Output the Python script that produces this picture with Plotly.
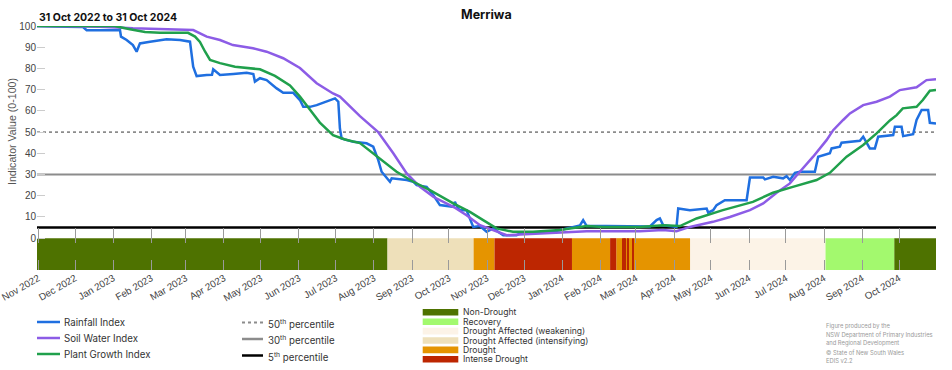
import pandas as pd
import plotly.graph_objects as go

START = "2022-10-31"
END = "2024-10-31"
TITLE = "Merriwa"
PERIOD_TEXT = "31 Oct 2022 to 31 Oct 2024"

# ---- index series (day offset from START, value 0-100) ----
rain_days = [0, 18.7, 24.1, 37.4, 40.4, 67.5, 68.3, 72.9, 78, 81, 83.7, 91.9, 100, 105.4, 116.3, 124.4,
             127, 129.8, 138, 142.3, 143.3, 148.8, 159.6, 170.5, 175.9, 177.2, 181.3, 186.7, 194.9, 200.2,
             208.4, 213.8, 216.5, 222, 227.4, 235.5, 240.9, 242.3, 245, 246.3, 247.7, 257.2, 268, 273.4,
             277.5, 280.2, 287, 288.4, 300.6, 306, 308.7, 316.8, 322.2, 327.6, 338.5, 339.8, 342.3, 343.9,
             349.3, 354.7, 360.2, 365.6, 371, 379.1, 390, 392.7, 419.8, 436, 441.5, 444.1, 447, 463.2,
             490.2, 498.4, 503.8, 506.5, 509.2, 520, 521.4, 530.9, 544.5, 545.8, 549.8, 552.6, 559.3,
             577, 579.7, 590.5, 591.9, 598.6, 606.7, 609.5, 612.2, 616.3, 620.3, 632.5, 635.2, 644.7,
             646.1, 652.8, 654.2, 669.1, 671.8, 677.2, 681.3, 684, 696.2, 697.6, 703, 704.3, 712.4,
             715.2, 719.3, 724.6, 726, 731]
rain_vals = [100, 100, 99.7, 99.5, 98, 98, 95, 93.4, 91, 87.9, 91.8, 92.6, 93.1, 93.7, 93.4, 92.6,
             80.8, 76.4, 76.9, 77, 79.6, 76.9, 77.4, 78, 77.4, 73.8, 75.4, 74.5, 70.6, 68.5,
             68.5, 65.1, 61.9, 61.9, 62.7, 64.3, 65.4, 65.9, 64.3, 51.7, 47, 45.4, 44.7, 43.1,
             36.8, 31.3, 26.6, 28.2, 27.4, 26.6, 25, 24.2, 20.3, 15.6, 14.8, 17.1, 14, 13.2,
             13.2, 5.3, 5.7, 3.0, 4.6, 1.4, 1.4, 2.2, 3.0, 5.3, 6, 8.5, 5.7, 5.7,
             5.7, 5.5, 8.5, 9.3, 6.1, 5.3, 14, 13.2, 14, 12, 13.2, 15.6, 17.9,
             17.9, 28.6, 28.6, 27.7, 28.9, 28.2, 29.2, 27.4, 30.8, 31.3, 31.3, 38.4, 40,
             42.3, 43.1, 45, 45.9, 47.8, 42.3, 42.3, 47.8, 48.6, 52.5, 52.5, 48.1, 49,
             55.7, 60.4, 60.4, 54.4, 54.1]

soil_days = [0, 51.2, 78, 127, 138, 148.8, 159.3, 175.6, 186.7, 200.2, 213.8, 222, 227.4, 240.7, 246.3,
             262.6, 277.2, 289.7, 300.6, 311.4, 322.2, 338.5, 349.3, 360.2, 373.7, 381.9, 392.7, 419.5,
             447, 490.2, 509, 520, 530.9, 549.6, 563.4, 579.7, 590.5, 601.4, 612.2, 620.3, 631.1, 642,
             647.4, 655.5, 661, 671.8, 682.7, 693.5, 701.6, 715.2, 723.3, 731]
soil_vals = [100, 99.7, 98.9, 98.1, 95, 93.4, 91, 89.5, 87.9, 84.8, 80.2, 76, 73, 68.2, 66.7,
             57.5, 50.1, 40, 30.5, 24.2, 19.5, 14.8, 10.8, 6.1, 3.0, 1.4, 1.7, 2.5,
             3.3, 3.3, 3.8, 3.3, 5.3, 7.7, 10, 13.2, 16.4, 21.4, 25.8, 31.3, 38.4, 46.2,
             50.9, 55.7, 58.8, 62.7, 64.3, 66.7, 69.8, 71.1, 74.5, 74.9]

plant_days = [0, 63, 75.6, 87.8, 100, 122.8, 128.5, 132.5, 136.6, 140.7, 148.8, 161, 181.3, 193.5,
              205.7, 213.8, 222, 230, 240.7, 250.4, 262.6, 277.2, 292.4, 306, 319.5, 338.5, 352,
              362.8, 373.7, 387, 403.3, 425.2, 447, 460.2, 490.2, 509, 522.8, 536.3, 557.7, 582.1,
              598.4, 614.6, 633.9, 644.7, 658.3, 671.8, 682.7, 693.5, 699, 704, 715.2, 720.3, 726, 731]
plant_vals = [100, 100, 98.5, 97.2, 96.8, 96.8, 95, 92.5, 88, 84, 82.5, 80.8, 79.6, 76.5,
              72, 66.7, 60.5, 54.5, 48.6, 46.5, 44.8, 38.4, 31.3, 26.6, 22.6, 16.4, 12.4,
              8.5, 4.6, 3.0, 3.0, 3.8, 5.7, 5.3, 5.3, 6.1, 5.7, 9.3, 13.2, 17.1,
              21.4, 24.2, 27.4, 30.8, 38.4, 43.9, 49.4, 55.5, 58, 61.2, 61.9, 65.1, 69.5, 69.8]

series_names = ["Rainfall Index", "Soil Water Index", "Plant Growth Index"]
series_colors = ["#1f6fe0", "#8c5ce6", "#20a04c"]

# ---- percentile reference lines ----
pct_values = [50, 30, 5]
pct_labels = ["50<sup>th</sup> percentile", "30<sup>th</sup> percentile", "5<sup>th</sup> percentile"]
pct_colors = ["#8c8c8c", "#8c8c8c", "#000000"]
pct_dash = ["dot", "solid", "solid"]
pct_width = [1.6, 2, 2.5]

# ---- drought phase strip ----
drought_categories = ["Non-Drought", "Recovery", "Drought Affected (weakening)",
                      "Drought Affected (intensifying)", "Drought", "Intense Drought"]
drought_colors = ["#4e7200", "#a3f96e", "#fcf3e7", "#eee0ba", "#e59400", "#bd2601"]
period_starts = ["2022-10-31", "2023-08-12", "2023-10-21", "2023-11-07", "2024-01-09", "2024-02-09",
                 "2024-02-14", "2024-02-19", "2024-02-20", "2024-02-21", "2024-02-22", "2024-02-23",
                 "2024-02-24", "2024-02-27", "2024-02-28", "2024-04-14", "2024-08-02", "2024-09-27"]
period_ends = ["2023-08-12", "2023-10-21", "2023-11-07", "2024-01-09", "2024-02-09", "2024-02-14",
               "2024-02-19", "2024-02-20", "2024-02-21", "2024-02-22", "2024-02-23", "2024-02-24",
               "2024-02-27", "2024-02-28", "2024-04-14", "2024-08-02", "2024-09-27", "2024-10-31"]
period_cats = ["Non-Drought", "Drought Affected (intensifying)", "Drought", "Intense Drought", "Drought",
               "Intense Drought", "Drought", "Intense Drought", "Drought", "Intense Drought", "Drought",
               "Intense Drought", "Drought", "Intense Drought", "Drought", "Drought Affected (weakening)",
               "Recovery", "Non-Drought"]
STRIP_BOTTOM = -15

CREDIT_LINES = ["Figure produced by the", "NSW Department of Primary Industries",
                "and Regional Development", "© State of New South Wales", "EDIS v2.2"]

FONT = "Inter, Liberation Sans, Arial, sans-serif"
TICK_FONT = "Liberation Sans, Arial, sans-serif"

t0 = pd.Timestamp(START)


def to_dates(days):
    return [t0 + pd.Timedelta(days=float(d)) for d in days]


fig = go.Figure()

# drought strip as bars (from 0 down to STRIP_BOTTOM)
for cat, col in zip(drought_categories, drought_colors):
    xs, ws = [], []
    for s, e, c in zip(period_starts, period_ends, period_cats):
        if c == cat:
            xs.append(pd.Timestamp(s))
            ws.append((pd.Timestamp(e) - pd.Timestamp(s)).total_seconds() * 1000)
    if not xs:
        continue
    fig.add_trace(go.Bar(x=xs, y=[STRIP_BOTTOM] * len(xs), base=0, width=ws, offset=0,
                         marker=dict(color=col, line=dict(width=0)), name=cat,
                         showlegend=False, hoverinfo="skip"))

# percentile lines
for v, c, d, w in zip(pct_values, pct_colors, pct_dash, pct_width):
    fig.add_trace(go.Scatter(x=[START, END], y=[v, v], mode="lines",
                             line=dict(color=c, dash=d, width=w),
                             showlegend=False, hoverinfo="skip"))

# index lines
for days, vals, name, col in zip([rain_days, soil_days, plant_days],
                                 [rain_vals, soil_vals, plant_vals],
                                 series_names, series_colors):
    fig.add_trace(go.Scatter(x=to_dates(days), y=vals, mode="lines", name=name,
                             line=dict(color=col, width=2.5), showlegend=False))

# invisible trace for the secondary tick axis
fig.add_trace(go.Scatter(x=[START], y=[0], xaxis="x2", mode="markers",
                         marker=dict(opacity=0), showlegend=False, hoverinfo="skip"))

# ---- layout geometry (pixels) ----
W, H = 952, 370
L, R, T, B = 37, 16, 26, 100
PW = W - L - R
PH = H - T - B


def px(x):
    return (x - L) / PW


def py(y):
    return (H - B - y) / PH


shapes = []
annotations = []

# legend 1: index lines
for i, (name, col) in enumerate(zip(series_names, series_colors)):
    yy = 322 + i * 16
    shapes.append(dict(type="line", xref="paper", yref="paper", x0=px(37), x1=px(60),
                       y0=py(yy), y1=py(yy), line=dict(color=col, width=2.5)))
    annotations.append(dict(text=name, xref="paper", yref="paper", x=px(61.5), y=py(yy),
                            xanchor="left", yanchor="middle", showarrow=False,
                            font=dict(size=9.7, color="#333", family=FONT)))

# legend 2: percentiles
for i, (lab, c, d, w) in enumerate(zip(pct_labels, pct_colors, pct_dash, pct_width)):
    yy = 322.5 + i * 16.5
    shapes.append(dict(type="line", xref="paper", yref="paper", x0=px(242), x1=px(263),
                       y0=py(yy), y1=py(yy), line=dict(color=c, width=2.5 if d == "solid" else 1.8, dash=d)))
    annotations.append(dict(text=lab, xref="paper", yref="paper", x=px(265.5), y=py(yy + 0.5),
                            xanchor="left", yanchor="middle", showarrow=False,
                            font=dict(size=9.7, color="#333", family=FONT)))

# legend 3: drought phases
for i, (cat, col) in enumerate(zip(drought_categories, drought_colors)):
    top = 309 + i * 9.4
    shapes.append(dict(type="rect", xref="paper", yref="paper", x0=px(422.7), x1=px(458.3),
                       y0=py(top), y1=py(top + 6.6), line=dict(width=0), fillcolor=col))
    annotations.append(dict(text=cat, xref="paper", yref="paper", x=px(461), y=py(top + 3.4),
                            xanchor="left", yanchor="middle", showarrow=False,
                            font=dict(size=8.6, color="#333", family=FONT)))

# credits
for i, line in enumerate(CREDIT_LINES):
    annotations.append(dict(text=line, xref="paper", yref="paper", x=px(824), y=py(325.7 + 8.8 * i),
                            xanchor="left", yanchor="middle", showarrow=False,
                            font=dict(size=5.8, color="#999", family=FONT)))

# title & period
annotations.append(dict(text="<b>" + TITLE + "</b>", xref="paper", yref="paper", x=0.5, y=py(15),
                        xanchor="center", yanchor="middle", showarrow=False,
                        font=dict(size=12.5, color="#111", family=FONT)))
annotations.append(dict(text="<b>" + PERIOD_TEXT + "</b>", xref="paper", yref="paper", x=px(37),
                        y=py(18), xanchor="left", yanchor="middle", showarrow=False,
                        font=dict(size=10.5, color="#111", family=FONT)))
# y title
annotations.append(dict(text="Indicator Value (0-100)", xref="paper", yref="paper", x=px(12),
                        y=py(132), xanchor="center", yanchor="middle", textangle=-90,
                        showarrow=False, font=dict(size=10.6, color="#555", family=TICK_FONT)))

fig.update_layout(
    width=W, height=H,
    margin=dict(l=L, r=R, t=T, b=B, pad=0, autoexpand=False),
    paper_bgcolor="white", plot_bgcolor="white",
    barmode="overlay",
    showlegend=False,
    font=dict(family=FONT, size=11, color="#444"),
    shapes=shapes,
    annotations=annotations,
    xaxis=dict(type="date", range=[START, END], tickformat="%b %Y", dtick="M1",
               tick0="2022-11-01", tickangle=-30, ticks="inside", ticklen=10,
               tickcolor="#9a9a9a", tickwidth=1, showgrid=False, zeroline=False,
               showline=False, ticklabeloverflow="allow", automargin=False,
               tickfont=dict(size=9.8, color="#444", family=TICK_FONT)),
    xaxis2=dict(type="date", overlaying="x", matches="x", anchor="free",
                position=(H - B - 243) / PH, side="top", dtick="M1", tick0="2022-11-01",
                ticks="outside", ticklen=15, tickcolor="#9a9a9a", tickwidth=1, automargin=False,
                showticklabels=False, showgrid=False, zeroline=False, showline=False),
    yaxis=dict(range=[STRIP_BOTTOM, 100], tickvals=list(range(0, 101, 10)),
               ticks="inside", ticklen=8, tickcolor="#cccccc", showgrid=False, automargin=False,
               zeroline=False, showline=False,
               tickfont=dict(size=10, color="#444", family=TICK_FONT)),
)

fig.write_html("out.html", config={"displayModeBar": False},
               post_script="document.body.style.margin='0';")
